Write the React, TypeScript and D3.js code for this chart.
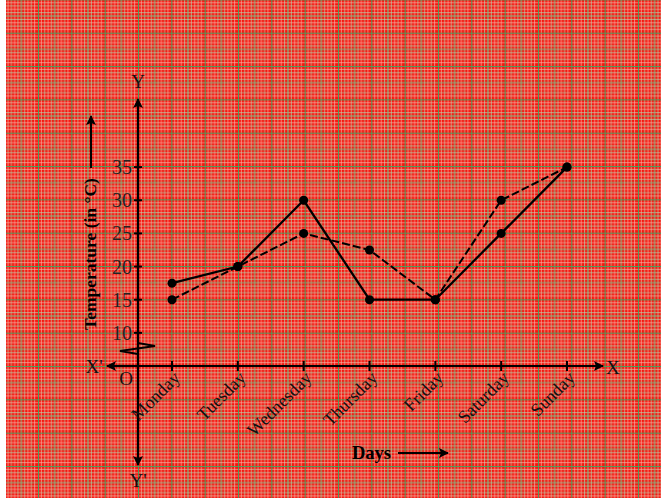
import { useEffect, useRef } from "react";
import * as d3 from "d3";

const days = ["Monday", "Tuesday", "Wednesday", "Thursday", "Friday", "Saturday", "Sunday"];
const solidTemps = [17.5, 20, 30, 15, 15, 25, 35];
const dashedTemps = [15, 20, 25, 22.5, 15, 30, 35];
const yTicks = [10, 15, 20, 25, 30, 35];

function App() {
  const svgRef = useRef<SVGSVGElement>(null);

  useEffect(() => {
    const width = 661;
    const height = 498;
    const originX = 138;
    const originY = 366;
    const big = 33.33;
    const small = big / 10;

    const svg = d3.select(svgRef.current).attr("width", width).attr("height", height);
    svg.selectAll("*").remove();

    // graph paper pattern
    const defs = svg.append("defs");
    const pat = defs
      .append("pattern")
      .attr("id", "paper")
      .attr("patternUnits", "userSpaceOnUse")
      .attr("x", originX)
      .attr("y", originY)
      .attr("width", big)
      .attr("height", big);
    pat.append("rect").attr("width", big).attr("height", big).attr("fill", "#f7150f");
    for (let i = 1; i < 10; i++) {
      const c = i === 5 ? "#7fbc86" : i % 2 ? "#f2b4a4" : "#b4d6ae";
      const w = i === 5 ? 1.1 : 0.7;
      pat.append("line").attr("x1", i * small).attr("x2", i * small).attr("y1", 0).attr("y2", big)
        .attr("stroke", c).attr("stroke-width", w);
      pat.append("line").attr("y1", i * small).attr("y2", i * small).attr("x1", 0).attr("x2", big)
        .attr("stroke", c).attr("stroke-width", w);
    }
    pat.append("line").attr("x1", 0).attr("x2", 0).attr("y1", 0).attr("y2", big)
      .attr("stroke", "#4f9a5c").attr("stroke-width", 2);
    pat.append("line").attr("y1", 0).attr("y2", 0).attr("x1", 0).attr("x2", big)
      .attr("stroke", "#4f9a5c").attr("stroke-width", 2);

    const arrow = defs
      .append("marker")
      .attr("id", "arr")
      .attr("viewBox", "0 0 10 10")
      .attr("refX", 9)
      .attr("refY", 5)
      .attr("markerUnits", "userSpaceOnUse")
      .attr("markerWidth", 13)
      .attr("markerHeight", 10)
      .attr("orient", "auto");
    arrow.append("path").attr("d", "M0,0 L10,5 L0,10 L2,5 Z").attr("fill", "#000");

    svg.append("rect").attr("width", width).attr("height", height).attr("fill", "#fff");
    svg.append("rect").attr("x", 6).attr("width", width - 6).attr("height", height).attr("fill", "url(#paper)");

    const xScale = d3.scalePoint().domain(days).range([172, 567]);
    const yScale = d3.scaleLinear().domain([5, 40]).range([originY, originY - 35 * 6.63]);

    const font = "'Liberation Serif', 'Times New Roman', serif";

    // axes
    svg.append("line").attr("x1", originX).attr("x2", originX).attr("y1", originY).attr("y2", 99)
      .attr("stroke", "#000").attr("stroke-width", 2.2).attr("marker-end", "url(#arr)");
    svg.append("line").attr("x1", originX).attr("x2", originX).attr("y1", originY).attr("y2", 465)
      .attr("stroke", "#000").attr("stroke-width", 2.2).attr("marker-end", "url(#arr)");
    svg.append("line").attr("x1", originX).attr("x2", 603).attr("y1", originY).attr("y2", originY)
      .attr("stroke", "#000").attr("stroke-width", 2.2).attr("marker-end", "url(#arr)");
    svg.append("line").attr("x1", originX).attr("x2", 107).attr("y1", originY).attr("y2", originY)
      .attr("stroke", "#000").attr("stroke-width", 2.2).attr("marker-end", "url(#arr)");

    // break mark
    svg.append("path")
      .attr("d", `M${originX},343 L155,346 L120,351 L${originX},354`)
      .attr("fill", "none").attr("stroke", "#000").attr("stroke-width", 2);

    // y ticks
    yTicks.forEach((t) => {
      svg.append("line").attr("x1", originX - 4).attr("x2", originX + 4)
        .attr("y1", yScale(t)).attr("y2", yScale(t)).attr("stroke", "#000").attr("stroke-width", 2);
      svg.append("text").attr("x", 132).attr("y", yScale(t)).attr("dy", "0.35em")
        .attr("text-anchor", "end").attr("font-family", font).attr("font-size", 20)
        .attr("fill", "#222").text(t);
    });

    // x ticks
    days.forEach((d) => {
      const x = xScale(d)!;
      svg.append("line").attr("x1", x).attr("x2", x).attr("y1", originY - 5).attr("y2", originY + 5)
        .attr("stroke", "#000").attr("stroke-width", 2);
      svg.append("text")
        .attr("transform", `translate(${x + 9},${originY + 13}) rotate(-45)`)
        .attr("text-anchor", "end").attr("font-family", font).attr("font-size", 18)
        .attr("fill", "#111").text(d);
    });

    // series
    const line = d3
      .line<number>()
      .x((_, i) => xScale(days[i])!)
      .y((v) => yScale(v));

    svg.append("path").attr("d", line(dashedTemps)).attr("fill", "none")
      .attr("stroke", "#000").attr("stroke-width", 2).attr("stroke-dasharray", "8,3");
    svg.append("path").attr("d", line(solidTemps)).attr("fill", "none")
      .attr("stroke", "#000").attr("stroke-width", 2.3);

    [solidTemps, dashedTemps].forEach((s) => {
      s.forEach((v, i) => {
        svg.append("circle").attr("cx", xScale(days[i])!).attr("cy", yScale(v))
          .attr("r", 4.5).attr("fill", "#000");
      });
    });

    // axis letters
    const letter = (x: number, y: number, t: string, anchor = "middle") =>
      svg.append("text").attr("x", x).attr("y", y).attr("text-anchor", anchor)
        .attr("font-family", font).attr("font-size", 19).attr("fill", "#111").text(t);
    letter(originX, 88, "Y");
    letter(originX, 487, "Y'");
    letter(606, 374, "X", "start");
    letter(94, 373, "X'");
    letter(126, 385, "O");

    // axis titles
    svg.append("text")
      .attr("transform", `translate(96,254) rotate(-90)`)
      .attr("text-anchor", "middle").attr("font-family", font).attr("font-size", 17.5)
      .attr("font-weight", "bold").attr("fill", "#000").text("Temperature (in °C)");
    svg.append("line").attr("x1", 91).attr("x2", 91).attr("y1", 168).attr("y2", 116)
      .attr("stroke", "#000").attr("stroke-width", 2).attr("marker-end", "url(#arr)");

    svg.append("text").attr("x", 352).attr("y", 459).attr("font-family", font)
      .attr("font-size", 18.5).attr("font-weight", "bold").attr("fill", "#000").text("Days");
    svg.append("line").attr("x1", 398).attr("x2", 448).attr("y1", 453).attr("y2", 453)
      .attr("stroke", "#000").attr("stroke-width", 2).attr("marker-end", "url(#arr)");
  }, []);

  return (
    <div style={{ position: "absolute", left: 0, top: 0 }}>
      <svg ref={svgRef}></svg>
    </div>
  );
}

export default App;
